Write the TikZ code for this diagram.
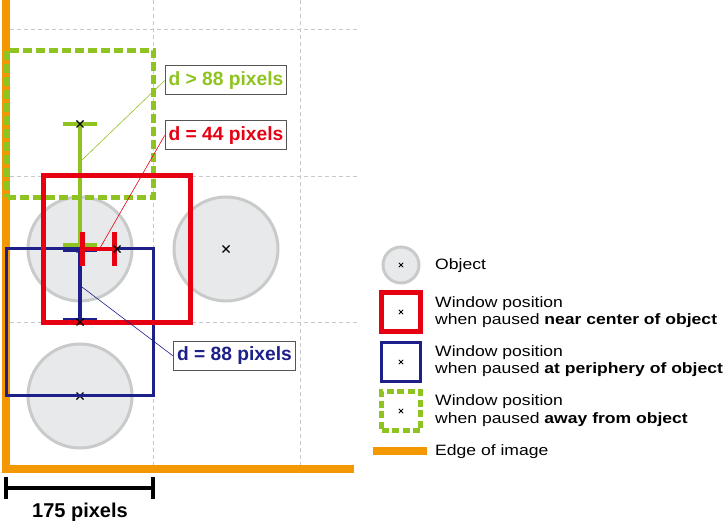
\documentclass[tikz,border=0pt]{standalone}
\usepackage{fontspec}
\setmainfont{Liberation Sans}
\newfontfamily\legfont[FakeStretch=1.17]{Liberation Sans}
\definecolor{cred}{HTML}{E60012}
\definecolor{cblue}{HTML}{1D2088}
\definecolor{cgreen}{HTML}{8FC31F}
\definecolor{corange}{HTML}{F39800}
\definecolor{cfill}{HTML}{E8E9EA}
\definecolor{cstroke}{HTML}{C9CACA}
\definecolor{cgrid}{HTML}{C8C8C8}
\definecolor{cbox}{HTML}{555555}
\begin{document}
\begin{tikzpicture}[x=1pt,y=-1pt,
  gridline/.style={cgrid,line width=0.7pt,dash pattern=on 4pt off 3pt},
  objc/.style={circle,draw=cstroke,fill=cfill,line width=3pt,minimum size=#1,inner sep=0pt},
  win/.style={draw,minimum size=#1,inner sep=0pt},
  redwin/.style={win=#1,draw=cred,line width=5pt},
  bluewin/.style={win=#1,draw=cblue,line width=3pt},
  greenwin/.style={win=#1,draw=cgreen,line width=5pt,dash pattern=on 9pt off 4pt},
  dimline/.style={line width=4.5pt},
  xmark/.style={line width=1.4pt,black},
  lab/.style={draw=cbox,line width=1pt,fill=white,font=\fontsize{19.2}{22}\selectfont\bfseries,minimum height=29pt,inner xsep=3.5pt,inner ysep=0pt},
  leg/.style={anchor=west,align=left,font=\legfont\fontsize{15}{17.3}\selectfont,inner sep=0pt},
  leader/.style={line width=0.6pt}]
\useasboundingbox (0,0) rectangle (725,521);
% grid
\foreach \gx in {153,300} \draw[gridline] (\gx,0) -- (\gx,465);
\foreach \gy in {29,176,322} \draw[gridline] (10,\gy) -- (358,\gy);
% edge of image
\draw[corange,line width=8pt] (6,0) -- (6,469) -- (354,469);
% objects
\node[objc=104pt] (c1) at (80,249) {};
\node[objc=104pt] (c2) at (226,249) {};
\node[objc=104pt] (c3) at (80,396) {};
\foreach \p in {c1,c2,c3} {
  \draw[xmark] ([shift={(-3.5,-3.5)}]\p.center) -- ([shift={(3.5,3.5)}]\p.center);
  \draw[xmark] ([shift={(-3.5,3.5)}]\p.center) -- ([shift={(3.5,-3.5)}]\p.center);
}
% green window and distance
\node[greenwin=147pt] (wg) at (80,124) {};
\draw[dimline,cgreen] (80,124) -- (80,245);
\draw[dimline,cgreen] (63,124) -- (97,124);
\draw[dimline,cgreen] (63,245) -- (97,245);
% blue window and distance
\node[bluewin=147pt] (wb) at (80,322) {};
\draw[dimline,cblue] (80,250) -- (80,320);
\draw[dimline,cblue] (63,250) -- (97,250);
\draw[dimline,cblue] (63,320) -- (97,320);
% red window and distance
\node[redwin=147pt] (wr) at (117,249) {};
\draw[dimline,cred] (80,249) -- (117,249);
\draw[dimline,cred] (82.5,232) -- (82.5,266);
\draw[dimline,cred] (114.5,232) -- (114.5,266);
% window centre marks
\foreach \p in {wg,wb,wr} {
  \draw[xmark] ([shift={(-3.5,-3.5)}]\p.center) -- ([shift={(3.5,3.5)}]\p.center);
  \draw[xmark] ([shift={(-3.5,3.5)}]\p.center) -- ([shift={(3.5,-3.5)}]\p.center);
}
% labels
\coordinate (pg) at (82,160);
\coordinate (pr) at (100,248);
\coordinate (pb) at (82,287);
\node[lab,text=cgreen] (lg) at (226,80.5) {d > 88 pixels};
\node[lab,text=cred] (lr) at (226,135.5) {d = 44 pixels};
\node[lab,text=cblue] (lbl) at (234.5,356) {d = 88 pixels};
\draw[leader,cgreen] (lg.west) -- (pg);
\draw[leader,cred] (lr.west) -- (pr);
\draw[leader,cblue] (lbl.west) -- (pb);
% scale bar
\coordinate (s1) at (6,488);
\coordinate (s2) at (153,488);
\draw[line width=3.5pt] (s1) -- (s2);
\draw[line width=3.5pt] (6,477) -- (6,499);
\draw[line width=3.5pt] (153,477) -- (153,499);
\node[font=\fontsize{20}{22}\selectfont\bfseries,anchor=base] (scl) at (80,517) {175 pixels};
% legend
\node[objc=36pt] (lo) at (401,265) {};
\node[redwin=39pt] (lwr) at (401,312) {};
\node[bluewin=39pt] (lwb) at (401,362) {};
\node[greenwin=39pt,dash pattern=on 7pt off 3.5pt] (lwg) at (401,411) {};
\foreach \p in {lo,lwr,lwb,lwg} {
  \draw[line width=0.8pt] ([shift={(-2.2,-2.2)}]\p.center) -- ([shift={(2.2,2.2)}]\p.center);
  \draw[line width=0.8pt] ([shift={(-2.2,2.2)}]\p.center) -- ([shift={(2.2,-2.2)}]\p.center);
}
\draw[corange,line width=8pt] (373,451) -- (427,451);
\node[leg] (t1) at (435,266) {Object};
\node[leg] (t2) at (435,312) {Window position\\when paused \textbf{near center of object}};
\node[leg] (t3) at (435,361) {Window position\\when paused \textbf{at periphery of object}};
\node[leg] (t4) at (435,410.5) {Window position\\when paused \textbf{away from object}};
\node[leg] (t5) at (435,452) {Edge of image};
\end{tikzpicture}
\end{document}
